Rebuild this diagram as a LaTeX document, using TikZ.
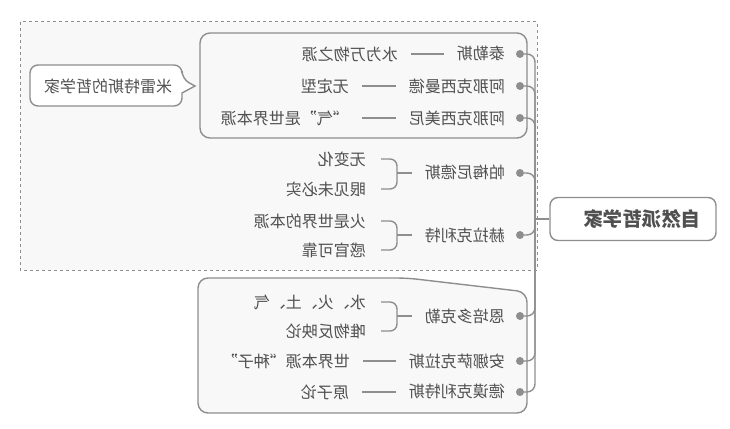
\documentclass[tikz,border=0pt]{standalone}
\usepackage{fontspec}
\usepackage{graphicx}
\usepackage{tikz}
\newfontfamily\cjk{Noto Sans CJK SC}
\newcommand{\mir}[1]{\reflectbox{#1}}
\definecolor{linegray}{HTML}{8E8E8E}
\definecolor{txtgray}{HTML}{505050}
\definecolor{bggray}{HTML}{F8F8F8}

\begin{document}
\begin{tikzpicture}[x=1pt,y=-1pt,
	txt/.style={inner sep=0pt,anchor=east,text=txtgray,font=\cjk\fontsize{16}{16}\selectfont},
	conn/.style={draw=linegray,line width=1.4pt},
	box/.style={draw=linegray,line width=1.4pt,fill=bggray,rounded corners=10pt},
	dot/.style={circle,fill=linegray,inner sep=0pt,minimum size=8pt}]
				\useasboundingbox (0,0) rectangle (730,428);
				\draw[draw=linegray,fill=bggray,dash pattern=on 3pt off 3pt,line width=1pt] (20,22) rectangle (537,270);
				\draw[box] (200,33) rectangle (527,138);
				\draw[box] (198,345) |- (407,278) -- (527,292) |- (198,413) -- cycle;
				\draw[draw=linegray,line width=1.4pt,fill=white,rounded corners=8pt] (30,86) |- (182,65) -- (182,79) [sharp corners] -- (195,86) -- (182,93) [rounded corners=8pt] |- (30,106) -- cycle;
				\node[txt,anchor=center] (milet) at (108,86) {\mir{米雷特斯的哲学家}};
				\node[draw=linegray,line width=1.4pt,fill=white,rounded corners=8pt,minimum width=166pt,minimum height=43pt,text=txtgray,font=\cjk\bfseries\fontsize{19.5}{20}\selectfont] (root) at (633,219) {\hspace*{18pt}\mir{自然派哲学家}};
				\coordinate (trunk) at (535,219);
				\draw[conn] (trunk) -- (root);
				\node[dot] (d1) at (520,54) {};
				\node[dot] (d2) at (520,86) {};
				\node[dot] (d3) at (520,118) {};
				\node[dot] (d4) at (520,173) {};
				\node[dot] (d5) at (520,235) {};
				\node[dot] (d6) at (520,316) {};
				\node[dot] (d7) at (520,361) {};
				\node[dot] (d8) at (520,392) {};
				\draw[conn,rounded corners=8pt] (d1) -| (trunk);
				\draw[conn,rounded corners=8pt] (d2) -| (trunk);
				\draw[conn,rounded corners=8pt] (d3) -| (trunk);
				\draw[conn,rounded corners=8pt] (d4) -| (trunk);
				\draw[conn,rounded corners=8pt] (d5) -| (trunk);
				\draw[conn,rounded corners=8pt] (d6) -| (trunk);
				\draw[conn,rounded corners=8pt] (d7) -| (trunk);
				\draw[conn,rounded corners=8pt] (d8) -| (trunk);
				\node[txt] (thales) at (505,54) {\mir{泰勒斯}};
				\node[txt] (anaximander) at (505,86) {\mir{阿那克西曼德}};
				\node[txt] (anaximenes) at (505,118) {\mir{阿那克西美尼}};
				\node[txt] (parmenides) at (505,173) {\mir{帕梅尼德斯}};
				\node[txt] (heraclitus) at (505,235) {\mir{赫拉克利特}};
				\node[txt] (empedocles) at (505,316) {\mir{恩培多克勒}};
				\node[txt] (anaxagoras) at (505,361) {\mir{安娜萨克拉斯}};
				\node[txt] (democritus) at (505,392) {\mir{德谟克利特斯}};
				\node[txt] (water) at (398,54) {\mir{水为万物之源}};
				\node[txt] (apeiron) at (349,86) {\mir{无定型}};
				\node[txt] (air) at (349,118) {\mir{“气”是世界本源}};
				\node[txt] (unchanging) at (366,159) {\mir{无变化}};
				\node[txt] (seeing) at (366,189) {\mir{眼见未必实}};
				\node[txt] (fire) at (366,221) {\mir{火是世界的本源}};
				\node[txt] (senses) at (366,250) {\mir{感官可靠}};
				\node[txt] (elements) at (366,302) {\mir{水、火、土、气}};
				\node[txt] (reflect) at (366,331) {\mir{唯物反映论}};
				\node[txt] (seeds) at (350,361) {\mir{世界本源“种子”}};
				\node[txt] (atoms) at (349,392) {\mir{原子论}};
				\draw[conn,shorten <=13pt,shorten >=13pt] (thales) -- (water);
				\draw[conn,shorten <=13pt,shorten >=13pt] (anaximander) -- (apeiron);
				\draw[conn,shorten <=13pt,shorten >=13pt] (anaximenes) -- (air);
				\draw[conn,shorten <=13pt,shorten >=13pt] (anaxagoras) -- (seeds);
				\draw[conn,shorten <=13pt,shorten >=13pt] (democritus) -- (atoms);
				\coordinate (b4) at (397,173);
				\coordinate (b5) at (397,235);
				\coordinate (b6) at (397,316);
				\draw[conn,shorten >=13pt] (b4) -- (parmenides);
				\draw[conn,shorten >=13pt] (b5) -- (heraclitus);
				\draw[conn,shorten >=13pt] (b6) -- (empedocles);
				\draw[conn,rounded corners=7pt] ([xshift=15pt]unchanging.east) -| (b4) |- ([xshift=15pt]seeing.east);
				\draw[conn,rounded corners=7pt] ([xshift=15pt]fire.east) -| (b5) |- ([xshift=15pt]senses.east);
				\draw[conn,rounded corners=7pt] ([xshift=15pt]elements.east) -| (b6) |- ([xshift=15pt]reflect.east);
\end{tikzpicture}
\end{document}
